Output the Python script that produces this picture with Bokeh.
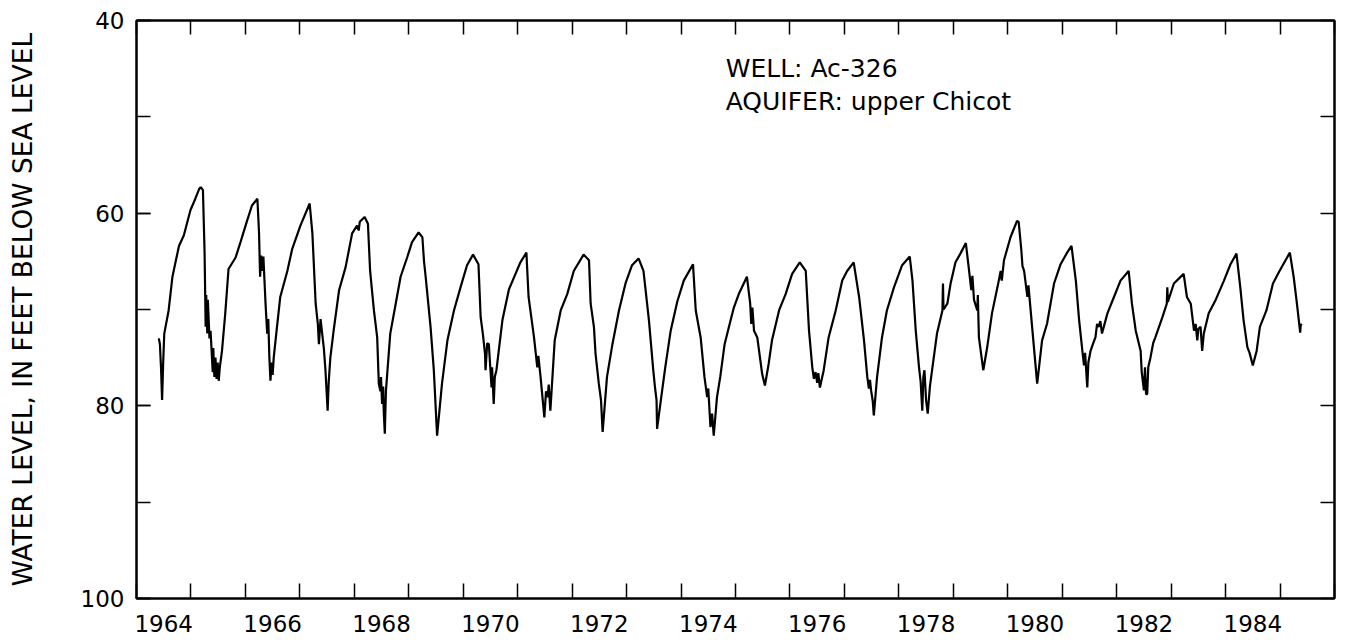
from bokeh.plotting import figure
from bokeh.models import Range1d, FixedTicker, LinearAxis, Label, ColumnDataSource
from bokeh.embed import file_html
from bokeh.resources import INLINE

years = [
    1964.41, 1964.43, 1964.45, 1964.47, 1964.49, 1964.51, 1964.59, 1964.66, 1964.72, 1964.78,
    1964.87, 1964.99, 1965.08, 1965.15, 1965.18, 1965.22, 1965.25, 1965.27, 1965.28, 1965.30,
    1965.31, 1965.34, 1965.36, 1965.40, 1965.41, 1965.43, 1965.45, 1965.47, 1965.49, 1965.51,
    1965.53, 1965.57, 1965.63, 1965.69, 1965.82, 1965.91, 1966.03, 1966.12, 1966.22, 1966.25,
    1966.27, 1966.29, 1966.31, 1966.33, 1966.37, 1966.40, 1966.42, 1966.44, 1966.46, 1966.48,
    1966.50, 1966.52, 1966.58, 1966.64, 1966.77, 1966.86, 1967.01, 1967.18, 1967.23, 1967.29,
    1967.33, 1967.35, 1967.38, 1967.41, 1967.44, 1967.47, 1967.51, 1967.53, 1967.56, 1967.62,
    1967.72, 1967.84, 1967.96, 1968.05, 1968.08, 1968.10, 1968.19, 1968.25, 1968.29, 1968.36,
    1968.42, 1968.45, 1968.48, 1968.49, 1968.51, 1968.53, 1968.54, 1968.56, 1968.58, 1968.60,
    1968.66, 1968.76, 1968.85, 1968.97, 1969.06, 1969.18, 1969.25, 1969.28, 1969.31, 1969.40,
    1969.46, 1969.52, 1969.61, 1969.71, 1969.83, 1969.95, 1970.07, 1970.18, 1970.28, 1970.32,
    1970.36, 1970.40, 1970.41, 1970.44, 1970.47, 1970.52, 1970.53, 1970.56, 1970.58, 1970.61,
    1970.72, 1970.84, 1970.96, 1971.05, 1971.16, 1971.20, 1971.30, 1971.36, 1971.38, 1971.42,
    1971.49, 1971.52, 1971.55, 1971.57, 1971.60, 1971.68, 1971.79, 1971.91, 1972.03, 1972.21,
    1972.31, 1972.34, 1972.40, 1972.43, 1972.49, 1972.53, 1972.56, 1972.64, 1972.74, 1972.86,
    1972.98, 1973.10, 1973.22, 1973.31, 1973.41, 1973.49, 1973.52, 1973.55, 1973.56, 1973.62,
    1973.71, 1973.81, 1973.93, 1974.05, 1974.22, 1974.27, 1974.36, 1974.43, 1974.48, 1974.50,
    1974.54, 1974.57, 1974.60, 1974.66, 1974.72, 1974.80, 1974.88, 1974.97, 1975.06, 1975.21,
    1975.27, 1975.29, 1975.31, 1975.34, 1975.40, 1975.49, 1975.54, 1975.61, 1975.67, 1975.80,
    1975.92, 1976.04, 1976.18, 1976.29, 1976.35, 1976.41, 1976.44, 1976.47, 1976.50, 1976.52,
    1976.55, 1976.62, 1976.71, 1976.84, 1976.96, 1977.05, 1977.17, 1977.27, 1977.36, 1977.42,
    1977.45, 1977.47, 1977.49, 1977.52, 1977.54, 1977.60, 1977.69, 1977.78, 1977.91, 1978.06,
    1978.20, 1978.25, 1978.31, 1978.37, 1978.40, 1978.43, 1978.45, 1978.47, 1978.50, 1978.53,
    1978.57, 1978.61, 1978.70, 1978.80, 1978.81, 1978.82, 1978.89, 1978.95, 1979.04, 1979.13,
    1979.23, 1979.29, 1979.33, 1979.35, 1979.38, 1979.44, 1979.45, 1979.47, 1979.55, 1979.62,
    1979.71, 1979.81, 1979.87, 1979.89, 1979.93, 1980.05, 1980.17, 1980.20, 1980.25, 1980.27,
    1980.30, 1980.36, 1980.38, 1980.42, 1980.48, 1980.54, 1980.63, 1980.72, 1980.85, 1980.97,
    1981.09, 1981.17, 1981.25, 1981.31, 1981.37, 1981.40, 1981.42, 1981.46, 1981.48, 1981.52,
    1981.57, 1981.61, 1981.64, 1981.67, 1981.70, 1981.73, 1981.83, 1981.95, 1982.07, 1982.22,
    1982.28, 1982.35, 1982.44, 1982.46, 1982.50, 1982.52, 1982.54, 1982.56, 1982.58, 1982.62,
    1982.67, 1982.71, 1982.84, 1982.92, 1982.93, 1982.94, 1983.05, 1983.23, 1983.29, 1983.36,
    1983.42, 1983.45, 1983.48, 1983.50, 1983.54, 1983.57, 1983.60, 1983.63, 1983.69, 1983.81,
    1983.97, 1984.09, 1984.20, 1984.27, 1984.33, 1984.40, 1984.44, 1984.50, 1984.57, 1984.63,
    1984.75, 1984.87, 1984.99, 1985.18, 1985.25, 1985.31, 1985.37, 1985.38, 1985.40,
]
levels = [
    73.0, 73.6, 76.0, 79.4, 75.5, 72.5, 70.1, 66.6, 65.0, 63.4,
    62.3, 59.7, 58.5, 57.5, 57.3, 57.6, 64.0, 71.8, 68.5, 72.5,
    69.0, 73.0, 72.2, 76.5, 74.0, 77.0, 75.0, 77.2, 75.5, 77.4,
    76.0, 74.3, 70.4, 65.8, 64.6, 63.0, 60.8, 59.2, 58.5, 62.0,
    66.6, 64.4, 66.0, 64.5, 69.4, 72.5, 71.0, 75.0, 77.4, 75.5,
    76.8, 75.0, 71.8, 68.7, 66.0, 63.7, 61.3, 59.0, 62.1, 69.4,
    71.5, 73.6, 71.0, 72.5, 74.0, 76.3, 80.5, 77.5, 75.0, 72.2,
    68.0, 65.6, 62.1, 61.3, 61.8, 60.9, 60.4, 61.1, 66.0, 70.1,
    72.9, 77.7, 78.5, 77.0, 79.8, 78.0, 80.5, 82.9, 78.5, 77.0,
    72.5, 69.4, 66.6, 64.6, 63.0, 62.0, 62.5, 65.0, 66.6, 71.8,
    76.3, 83.1, 77.7, 73.2, 70.1, 67.7, 65.4, 64.3, 65.3, 70.8,
    72.5, 74.6, 76.3, 73.5, 73.6, 78.1, 76.0, 79.8, 77.0, 76.3,
    71.1, 67.9, 66.3, 65.1, 64.1, 68.7, 72.9, 76.0, 74.8, 77.0,
    81.2, 78.5, 79.1, 77.8, 80.5, 73.2, 70.1, 68.4, 66.0, 64.3,
    64.9, 69.4, 71.8, 74.6, 77.7, 79.4, 82.7, 77.0, 73.6, 70.1,
    67.3, 65.4, 64.7, 66.0, 71.1, 76.3, 78.0, 79.4, 82.4, 79.8,
    76.0, 72.2, 69.2, 67.0, 65.3, 70.1, 72.9, 77.0, 79.1, 78.2,
    82.2, 80.8, 83.1, 79.1, 77.0, 73.6, 71.8, 69.8, 68.4, 66.6,
    69.4, 71.5, 69.8, 72.2, 72.9, 76.7, 77.9, 75.6, 73.2, 70.1,
    68.4, 66.3, 65.1, 66.0, 72.2, 76.0, 77.2, 76.5, 77.6, 76.6,
    78.1, 76.3, 72.9, 70.1, 67.0, 66.0, 65.1, 68.7, 73.2, 77.0,
    78.2, 77.3, 78.4, 79.5, 81.0, 77.0, 72.9, 70.1, 67.7, 65.4,
    64.5, 67.0, 72.2, 76.0, 77.5, 80.5, 77.0, 76.3, 79.4, 80.8,
    78.0, 76.3, 72.5, 70.1, 67.3, 70.0, 69.4, 67.3, 65.1, 64.2,
    63.1, 66.0, 68.0, 66.5, 69.0, 70.1, 68.5, 72.9, 76.3, 74.0,
    70.4, 67.7, 66.0, 67.0, 64.9, 62.5, 60.8, 60.9, 63.9, 65.5,
    66.0, 68.7, 67.5, 70.1, 73.9, 77.7, 73.2, 71.5, 67.3, 65.3,
    64.1, 63.4, 67.0, 71.1, 74.3, 75.8, 74.5, 78.1, 75.5, 74.3,
    73.5, 72.9, 71.5, 71.8, 71.2, 72.5, 70.4, 68.7, 67.0, 66.0,
    69.4, 72.2, 74.3, 76.5, 78.4, 76.0, 78.8, 78.8, 76.0, 75.0,
    73.5, 72.9, 70.8, 69.4, 67.7, 69.2, 67.3, 66.3, 68.7, 69.4,
    72.2, 71.5, 73.2, 72.0, 71.8, 74.3, 72.5, 71.8, 70.4, 69.1,
    67.0, 65.3, 64.2, 67.7, 71.1, 73.9, 74.5, 75.8, 74.3, 71.8,
    70.1, 67.3, 66.0, 64.1, 66.6, 69.4, 72.4, 71.6, 71.5,
]

year_labels = ["1964", "1966", "1968", "1970", "1972", "1974",
               "1976", "1978", "1980", "1982", "1984"]
year_label_pos = [1964.5, 1966.5, 1968.5, 1970.5, 1972.5, 1974.5,
                  1976.5, 1978.5, 1980.5, 1982.5, 1984.5]
year_ticks = list(range(1964, 1987))
level_ticks = [40, 50, 60, 70, 80, 90, 100]
level_label_ticks = [40, 60, 80, 100]
level_labels = ["40", "60", "80", "100"]

annotation_lines = ["WELL: Ac-326", "AQUIFER: upper Chicot"]

FONT = "DejaVu Sans"

p = figure(width=1345, height=640, output_backend="svg", toolbar_location=None,
           x_range=Range1d(1964, 1986), y_range=Range1d(100, 40),
           x_axis_location=None, y_axis_location=None,
           min_border_left=136, min_border_right=11,
           min_border_top=20, min_border_bottom=42)
p.xgrid.visible = False
p.ygrid.visible = False
p.outline_line_color = "black"
p.outline_line_width = 2
p.background_fill_color = "white"
p.border_fill_color = "white"

src = ColumnDataSource(dict(x=years, y=levels))
p.line("x", "y", source=src, line_color="black", line_width=2.2)

# bottom axis: inward year ticks (minor) + labels centred in the year
bottom = LinearAxis(ticker=FixedTicker(ticks=year_label_pos, minor_ticks=year_ticks))
bottom.major_label_overrides = {v: t for v, t in zip(year_label_pos, year_labels)}
bottom.major_tick_in = 0
bottom.major_tick_out = 0
bottom.minor_tick_in = 15
bottom.minor_tick_out = 0
bottom.minor_tick_line_width = 1.5
bottom.minor_tick_line_color = "black"
bottom.axis_line_width = 2
bottom.axis_line_color = "black"
bottom.major_label_standoff = 16
bottom.major_label_text_font = FONT
bottom.major_label_text_font_size = "23px"
bottom.major_label_text_color = "black"
p.add_layout(bottom, "below")

# top axis: inward ticks only (no labels: the ticks are minor ticks of an empty major list)
top = LinearAxis(ticker=FixedTicker(ticks=[], minor_ticks=year_ticks))
top.major_tick_in = 0
top.major_tick_out = 0
top.minor_tick_in = 14
top.minor_tick_out = 0
top.minor_tick_line_width = 1.5
top.minor_tick_line_color = "black"
top.axis_line_width = 2
top.major_label_standoff = 0
p.add_layout(top, "above")

# left axis: labelled majors at 40/60/80/100, unlabelled minors at 50/70/90
left = LinearAxis(ticker=FixedTicker(ticks=level_label_ticks, minor_ticks=level_ticks))
left.major_label_overrides = {v: t for v, t in zip(level_label_ticks, level_labels)}
left.major_tick_in = 14
left.major_tick_out = 0
left.major_tick_line_width = 1.5
left.minor_tick_in = 14
left.minor_tick_out = 0
left.minor_tick_line_width = 1.5
left.minor_tick_line_color = "black"
left.axis_line_width = 2
left.major_label_standoff = 12
left.major_label_text_font = FONT
left.major_label_text_font_size = "23px"
left.major_label_text_color = "black"
left.axis_label = "WATER LEVEL, IN FEET BELOW SEA LEVEL"
left.axis_label_text_font = FONT
left.axis_label_text_font_size = "26.5px"
left.axis_label_text_font_style = "normal"
left.axis_label_text_color = "black"
left.axis_label_standoff = 40
p.add_layout(left, "left")

right = LinearAxis(ticker=FixedTicker(ticks=[], minor_ticks=level_ticks))
right.major_tick_in = 0
right.major_tick_out = 0
right.minor_tick_in = 14
right.minor_tick_out = 0
right.minor_tick_line_width = 1.5
right.minor_tick_line_color = "black"
right.axis_line_width = 2
right.major_label_standoff = 0
p.add_layout(right, "right")

for i, line in enumerate(annotation_lines):
    p.add_layout(Label(x=1974.82, y=44.98 + i * 3.45, text=line,
                       text_font=FONT, text_font_size="25px", text_color="black",
                       text_baseline="alphabetic"))

open("out.html", "w").write(file_html(p, INLINE))
